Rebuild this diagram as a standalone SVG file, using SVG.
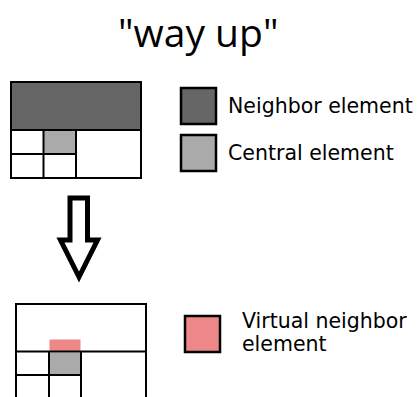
<svg xmlns="http://www.w3.org/2000/svg" width="419" height="397" viewBox="0 0 419 397">
  <style>
    .cell { fill: #ffffff; stroke: #000000; stroke-width: 2; }
    .dark { fill: #666666; }
    .mid { fill: #aaaaaa; }
    .pink { fill: #ee8888; }
    .key { stroke: #000000; stroke-width: 2.5; }
    .label { font-family: "DejaVu Sans", sans-serif; font-size: 20.5px; fill: #000000; }
    .title { font-family: "Open Sans", sans-serif; font-size: 39px; fill: #000000; }
  </style>

  <text class="title" x="118" y="47">"way up"</text>

  <!-- upper grid: neighbor above central cell -->
  <g id="grid-before">
    <rect class="cell" x="11" y="82" width="130" height="96"/>
    <rect class="dark" x="12" y="83" width="128" height="47"/>
    <line class="cell" x1="11" y1="130" x2="141" y2="130"/>
    <rect class="mid" x="43.5" y="131" width="32" height="22"/>
    <line class="cell" x1="11" y1="154" x2="76" y2="154"/>
    <line class="cell" x1="43.5" y1="130" x2="43.5" y2="178"/>
    <line class="cell" x1="76" y1="130" x2="76" y2="178"/>
  </g>

  <!-- hollow down arrow -->
  <g id="arrow">
    <path d="M70,198 H87.5 V240 H97.5 L79,277 L60.5,240 H70 Z" fill="none" stroke="#000000" stroke-width="5" stroke-linejoin="miter"/>
  </g>

  <!-- lower grid: virtual neighbor on top of central cell -->
  <g id="grid-after">
    <path class="cell" d="M16,397 V304 H146 V397"/>
    <rect class="pink" x="49.5" y="339.5" width="31" height="11.5"/>
    <rect class="mid" x="49.5" y="352.5" width="31" height="22"/>
    <line class="cell" x1="16" y1="351.5" x2="146" y2="351.5"/>
    <line class="cell" x1="16" y1="375" x2="81" y2="375"/>
    <line class="cell" x1="49" y1="351.5" x2="49" y2="397"/>
    <line class="cell" x1="81" y1="351.5" x2="81" y2="397"/>
  </g>

  <!-- legend -->
  <g id="legend-neighbor">
    <rect class="key dark" x="181" y="88" width="35" height="36"/>
    <text class="label" x="228" y="113">Neighbor element</text>
  </g>
  <g id="legend-central">
    <rect class="key mid" x="181" y="135" width="35" height="36"/>
    <text class="label" x="228" y="160">Central element</text>
  </g>
  <g id="legend-virtual">
    <rect class="key pink" x="185" y="316" width="35" height="36"/>
    <text class="label" x="242" y="328">Virtual neighbor</text>
    <text class="label" x="242" y="351">element</text>
  </g>
</svg>
